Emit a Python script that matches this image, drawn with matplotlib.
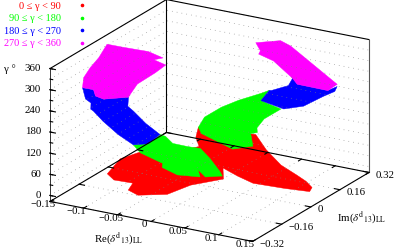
from matplotlib import pyplot as plt
from matplotlib.lines import Line2D
from mpl_toolkits.mplot3d import proj3d
from mpl_toolkits.mplot3d.art3d import Poly3DCollection

plt.rcParams['font.family'] = ['Liberation Serif', 'DejaVu Serif']
plt.rcParams['mathtext.fontset'] = 'stix'
plt.rcParams['font.size'] = 7.8

# outlines of the coloured regions: Re, Im, gamma
red_re = [-.073,-.096,-.102,-.093,-.066,-.068,-.051,-.020,-.008,.017,.009,.034,.058,.100,.133,.128,.112,.095,.068,.043,.019,.013,-.055,-.049,-.038,-.044,-.056]
red_im = [-.110,-.137,-.186,-.183,-.179,-.197,-.207,-.161,-.077,.011,.038,.026,.022,.042,.054,.086,.113,.126,.138,.150,.181,.165,.140,.104,.081,.002,-.063]
red_g = [90,70,40,25,25,10,5,5,10,10,30,20,10,5,5,5,8,15,30,60,85,90,90,75,60,70,85]

green_l_re = [-.035,-.020,-.024,-.018,-.007,.009,.020,.037,.056,.063,.046,.024,.040,.011,-.020,-.027,-.071]
green_l_im = [-.292,-.264,-.183,-.177,-.179,-.156,-.127,-.136,-.152,-.166,-.196,-.155,-.203,-.220,-.189,-.160,-.118]
green_l_g = [180,180,180,175,160,150,140,120,95,90,90,90,90,90,90,90,90]

green_r_re = [-.055,-.054,-.034,-.018,.004,.014,.024,.062,.042,.031,.027,.015,.041,.024,-.040]
green_r_im = [.140,.170,.189,.224,.267,.274,.191,.160,.142,.143,.160,.168,.084,.035,.101]
green_r_g = [90,110,140,155,170,180,180,180,150,120,100,90,90,90,90]

blue_l_re = [-.139,-.123,-.109,-.094,-.070,-.067,-.058,-.038,-.018,-.020,-.035,-.058,-.083,-.103,-.106,-.114,-.121]
blue_l_im = [-.185,-.184,-.225,-.236,-.188,-.203,-.205,-.212,-.208,-.264,-.292,-.290,-.280,-.259,-.262,-.231,-.235]
blue_l_g = [270,270,270,270,270,250,240,215,190,180,180,200,225,240,245,250,260]

blue_r_re = [.024,.014,.020,.056,.073,.093,.139,.143,.143,.125,.095,.065]
blue_r_im = [.191,.274,.264,.223,.184,.134,.132,.168,.155,.160,.162,.164]
blue_r_g = [180,180,185,225,265,270,270,272,262,240,200,180]

pink_l_re = [-.139,-.116,-.084,-.059,-.069,-.046,-.053,-.065,-.067,-.070,-.094,-.109,-.123,-.139,-.140,-.135,-.131]
pink_l_im = [-.050,-.044,-.027,-.039,-.052,-.072,-.105,-.158,-.189,-.188,-.236,-.225,-.184,-.185,-.175,-.157,-.125]
pink_l_g = [352,350,345,340,335,335,320,300,280,270,270,270,270,270,295,320,340]

pink_r_re = [.022,.049,.070,.141,.139,.093,.083,.056,.040,.039]
pink_r_im = [.170,.206,.183,.176,.132,.134,.145,.141,.119,.132]
pink_r_g = [350,355,355,275,270,270,280,320,340,345]

legend_labels = ['0 ≤ γ < 90', '90 ≤ γ < 180', '180 ≤ γ < 270', '270 ≤ γ < 360']
colors = ['#ff0000', '#00ff00', '#0000ff', '#ff00ff']

re_ticks = [-0.15, -0.1, -0.05, 0, 0.05, 0.1, 0.15]
re_labels = ['\u22120.15', '\u22120.1', '\u22120.05', '0', '0.05', '0.1', '0.15']
im_ticks = [-0.32, -0.16, 0, 0.16, 0.32]
im_labels = ['\u22120.32', '\u22120.16', '0', '0.16', '0.32']
g_ticks = [0, 60, 120, 180, 240, 300, 360]
g_minor = [0, 30, 60, 90, 120, 150, 180, 210, 240, 270, 300, 330, 360]

x0, x1 = -0.15, 0.15
y0, y1 = -0.32, 0.32
floor, top = -17, 360

fig = plt.figure(figsize=(3.97, 2.49), dpi=100)
ax = fig.add_subplot(projection='3d', computed_zorder=False, proj_type='ortho')
ax.view_init(elev=20, azim=-60)
ax.set_box_aspect((234, 233, 141.5))
ax.set_axis_off()

regions = [(red_re, red_im, red_g, 0, 1),
           (green_l_re, green_l_im, green_l_g, 1, 2),
           (green_r_re, green_r_im, green_r_g, 1, 2),
           (blue_l_re, blue_l_im, blue_l_g, 2, 3),
           (blue_r_re, blue_r_im, blue_r_g, 2, 3),
           (pink_l_re, pink_l_im, pink_l_g, 3, 4),
           (pink_r_re, pink_r_im, pink_r_g, 3, 4)]
for re, im, g, c, z in regions:
    poly = Poly3DCollection([list(zip(re, im, g))], facecolor=colors[c],
                            edgecolor=colors[c], linewidth=0.3, zorder=z)
    ax.add_collection3d(poly, autolim=False)

ax.set_xlim(x0, x1, view_margin=0)
ax.set_ylim(y0, y1, view_margin=0)
ax.set_zlim(floor, top, view_margin=0)

# dotted grid, walls and floor
grid = dict(color='#808080', lw=0.5, ls=(0, (1, 6)), zorder=5)
for g in g_minor:
    ax.plot([x0, x0, x1], [y0, y1, y1], [g, g, g], **grid)
for t in re_ticks:
    ax.plot([t, t], [y0, y1], [floor, floor], **grid)
for t in im_ticks:
    ax.plot([x0, x1], [t, t], [floor, floor], **grid)

# box
line = dict(color='k', lw=0.8, zorder=6)
ax.plot([x0, x1, x1], [y0, y0, y1], [floor, floor, floor], **line)
ax.plot([x0, x0, x1], [y0, y1, y1], [floor, floor, floor], **line)
ax.plot([x0, x0, x1], [y0, y1, y1], [top, top, top], **line)
ax.plot([x0, x0], [y1, y1], [floor, top], **line)
ax.plot([x0, x0], [y0, y0], [floor, top], color='#333333', lw=0.7, zorder=6)
ax.plot([x1, x1], [y1, y1], [floor, top], color='#555555', lw=0.8, zorder=6)

# ticks
for t in re_ticks:
    ax.plot([t, t], [y0, y0 + 0.016], [floor, floor], **line)
    ax.plot([t, t], [y1, y1 - 0.016], [floor, floor], **line)
for t in im_ticks:
    ax.plot([x1, x1 - 0.008], [t, t], [floor, floor], **line)
    ax.plot([x0, x0 + 0.008], [t, t], [floor, floor], **line)
for g in g_minor:
    ax.plot([x0, x0 + 0.004], [y0, y0], [g, g], **line)
for g in g_ticks:
    ax.plot([x0, x0 + 0.008], [y0, y0], [g, g], **line)

fig.text(10 / 397, 1 - 69 / 249, 'γ °', ha='center', va='center')
fig.text(119 / 397, 1 - 238.5 / 249, r'Re($\delta^{\mathrm{d}}{}_{13}$)$_{\mathrm{LL}}$', ha='center', va='center')
fig.text(362 / 397, 1 - 217 / 249, r'Im($\delta^{\mathrm{d}}{}_{13}$)$_{\mathrm{LL}}$', ha='center', va='center')

handles = [Line2D([], [], ls='none', marker='.', ms=3.2, color=c) for c in colors]
ax.legend(handles, legend_labels, labelcolor=colors, markerfirst=False, alignment='right',
          frameon=False, loc='upper right', bbox_to_anchor=(87.5 / 397, 1 - 1.5 / 249),
          bbox_transform=fig.transFigure, borderaxespad=0, borderpad=0, fontsize=7.4,
          labelspacing=0.33, handlelength=1, handletextpad=1.6)


def pix(x, y, z):
    xs, ys, _ = proj3d.proj_transform(x, y, z, ax.get_proj())
    p = ax.transData.transform((xs, ys))
    return p[0], 249 - p[1]


# put the box corners where they belong in the image
side, cx, cy = 300.0, 209.5, 120.5
for i in range(4):
    ax.set_position([(cx - side / 2) / 397, 1 - (cy + side / 2) / 249, side / 397, side / 249])
    fig.canvas.draw()
    ax_, ay_ = pix(x0, y0, floor)
    bx_, by_ = pix(x1, y1, top)
    side *= (369 - 50) / (bx_ - ax_)
    cx += 209.5 - (ax_ + bx_) / 2
    cy += 120.5 - (ay_ + by_) / 2

# tick labels, next to where the ticks came out
for t, s in zip(re_ticks, re_labels):
    px, py = pix(t, y0, floor)
    fig.text((px - 7) / 397, 1 - (py + 3.5) / 249, s, ha='center', va='center')
for t, s in zip(im_ticks, im_labels):
    px, py = pix(x1, t, floor)
    fig.text((px + 7) / 397, 1 - (py + 3) / 249, s, ha='left', va='center')
for g in g_ticks:
    px, py = pix(x0, y0, g)
    fig.text(41 / 397, 1 - py / 249, str(g), ha='right', va='center')

fig.savefig('out.png', dpi=100)
